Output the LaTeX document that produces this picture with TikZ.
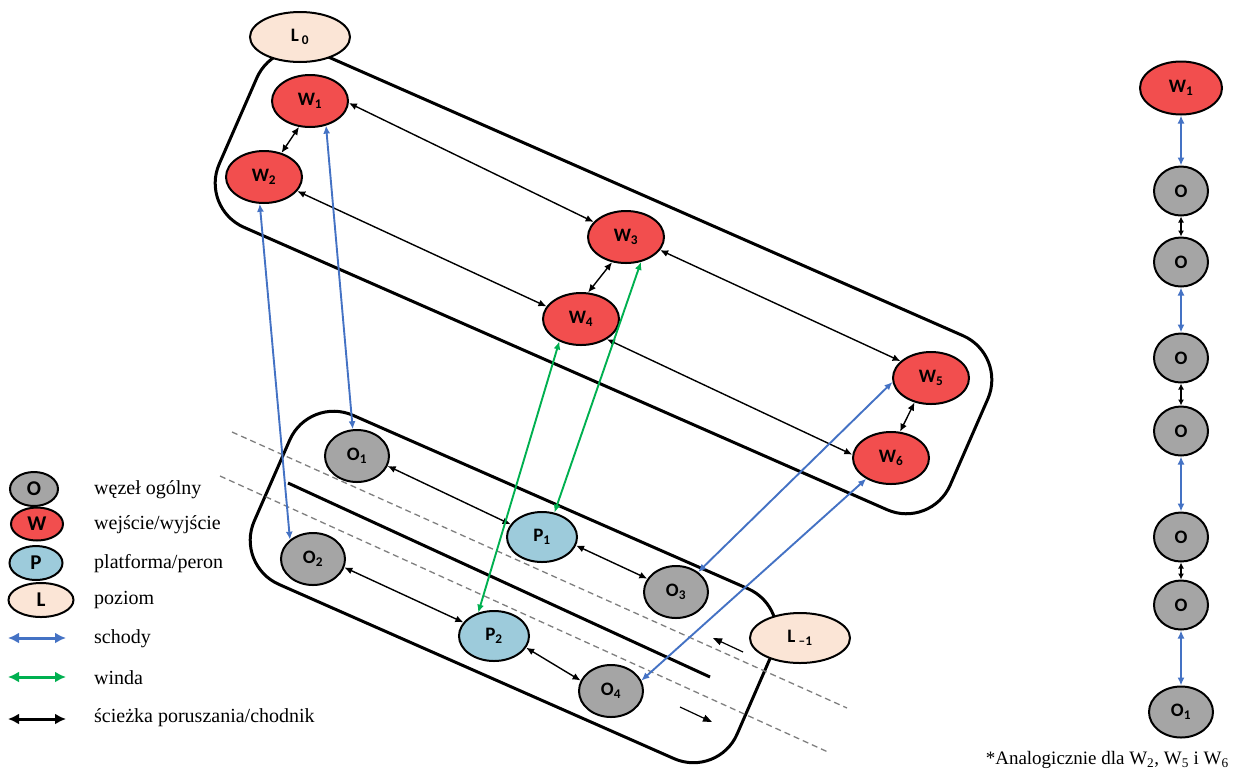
\documentclass[tikz,border=0pt]{standalone}
\usepackage{fontspec}
\setmainfont{Liberation Serif}
\newfontfamily\nodefont{Carlito}
\usetikzlibrary{shapes.geometric,arrows.meta}
\definecolor{wred}{HTML}{F24E4E}
\definecolor{ogray}{HTML}{A5A5A5}
\definecolor{pblue}{HTML}{9DCBDB}
\definecolor{lpeach}{HTML}{FBE5D6}
\definecolor{sblue}{HTML}{4472C4}
\definecolor{wgreen}{HTML}{00B050}
\definecolor{dgray}{HTML}{7F7F7F}
\tikzset{
  nd/.style={ellipse, draw=black, line width=2pt, inner sep=0pt, text=black,
    font=\nodefont\bfseries\fontsize{19}{19}\selectfont},
  wn/.style={nd, fill=wred, minimum width=76pt, minimum height=52pt},
  on/.style={nd, fill=ogray, minimum width=64pt, minimum height=52pt},
  pn/.style={nd, fill=pblue, minimum width=70pt, minimum height=50pt},
  ln/.style={nd, fill=lpeach, minimum width=100pt, minimum height=50pt},
  lg/.style={font=\nodefont\bfseries\fontsize{21}{21}\selectfont},
  walk/.style={{Latex[length=8pt,width=7pt]}-{Latex[length=8pt,width=7pt]}, line width=1.4pt, draw=black},
  stairs/.style={{Latex[length=8pt,width=7pt]}-{Latex[length=8pt,width=7pt]}, line width=1.9pt, draw=sblue},
  lift/.style={{Latex[length=8pt,width=7pt]}-{Latex[length=8pt,width=7pt]}, line width=1.9pt, draw=wgreen},
  shortwalk/.style={{Latex[length=6pt,width=6pt]}-{Latex[length=6pt,width=6pt]}, line width=1.4pt, draw=black},
  legarrow/.style={{Latex[length=11pt,width=11pt]}-{Latex[length=11pt,width=11pt]}, line width=3pt},
  levelbox/.style={draw=black, line width=3pt, rounded corners=48pt},
  dashline/.style={draw=dgray, line width=1.3pt, dash pattern=on 6pt off 4pt},
  txt/.style={anchor=west, inner sep=0pt, font=\fontsize{20}{20}\selectfont},
}
\begin{document}
\begin{tikzpicture}[x=1pt,y=-1pt]
\useasboundingbox (0,0) rectangle (1238,772);
% level boxes
\draw[levelbox] (641.5,194.5) -- (1007,355) -- (931,529) -- (200,208) -- (276,34) -- cycle;
\draw[levelbox] (550.5,502) -- (792,608) -- (718,778) -- (235,565) -- (309,396) -- cycle;
% track lines
\draw[dashline] (232,432) -- (847,708);
\draw[dashline] (220,476) -- (828,752);
\draw[line width=3pt] (288,483) -- (710,677);
\coordinate (a1s) at (743,652); \coordinate (a1e) at (713,638);
\coordinate (a2s) at (680,707); \coordinate (a2e) at (712,722);
\draw[line width=1.2pt, -{Triangle[length=9pt,width=7pt]}] (a1s) -- (a1e);
\draw[line width=1.2pt, -{Triangle[length=9pt,width=7pt]}] (a2s) -- (a2e);
% level nodes
\node[ln] (L0) at (300,37) {L\,\textsubscript{0}};
\node[ln] (Lm1) at (800,638) {L\,\textsubscript{–1}};
% upper level
\node[wn] (W1) at (310,101) {W\textsubscript{1}};
\node[wn] (W2) at (264,177) {W\textsubscript{2}};
\node[wn] (W3) at (626,237) {W\textsubscript{3}};
\node[wn] (W4) at (581,319) {W\textsubscript{4}};
\node[wn] (W5) at (931,378) {W\textsubscript{5}};
\node[wn] (W6) at (891,458) {W\textsubscript{6}};
% lower level
\node[on] (O1) at (357,456) {O\textsubscript{1}};
\node[on] (O2) at (313,559) {O\textsubscript{2}};
\node[on] (O3) at (676,592) {O\textsubscript{3}};
\node[on] (O4) at (611,691) {O\textsubscript{4}};
\node[pn] (P1) at (542,537) {P\textsubscript{1}};
\node[pn] (P2) at (494,636) {P\textsubscript{2}};
% walking paths
\draw[walk] (W1.247) -- (W2.54);
\draw[walk] (W1.-3) -- (W3.155);
\draw[walk] (W2.-23) -- (W4.160);
\draw[walk] (W3.241) -- (W4.75);
\draw[walk] (W3.-21) -- (W5.151);
\draw[walk] (W4.-38) -- (W6.175);
\draw[walk] (W5.236) -- (W6.71);
\draw[walk] (O1.-18) -- (P1.158);
\draw[walk] (P1.-14) -- (O3.155);
\draw[walk] (O2.-15) -- (P2.156);
\draw[walk] (P2.-20) -- (O4.161);
% stairs
\draw[stairs] (W1.-57) -- (O1.99);
\draw[stairs] (W2.261) -- (O2.140);
\draw[stairs] (O3.42) -- (W5.186);
\draw[stairs] (O4.19) -- (W6.220);
% lifts
\draw[lift] (W4.226) -- (P2.124);
\draw[lift] (W3.-59) -- (P1.63);
% legend
\node[nd, lg, fill=ogray, minimum width=48pt, minimum height=34pt] (lgO) at (34,489) {O};
\node[nd, lg, fill=wred, minimum width=52pt, minimum height=33pt] (lgW) at (37,524) {W};
\node[nd, lg, fill=pblue, minimum width=53pt, minimum height=34pt] (lgP) at (36,563) {P};
\node[nd, lg, fill=lpeach, minimum width=65pt, minimum height=34pt] (lgL) at (41,600) {L};
\coordinate (lb1) at (8,638); \coordinate (lb2) at (66,638);
\coordinate (lg1) at (8,677); \coordinate (lg2) at (66,677);
\coordinate (lk1) at (8,719); \coordinate (lk2) at (66,719);
\draw[legarrow, draw=sblue] (lb1) -- (lb2);
\draw[legarrow, draw=wgreen] (lg1) -- (lg2);
\draw[legarrow, draw=black] (lk1) -- (lk2);
\node[txt] (t1) at (94,490) {węzeł ogólny};
\node[txt] (t2) at (94,525) {wejście/wyjście};
\node[txt] (t3) at (94,564) {platforma/peron};
\node[txt] (t4) at (94,600) {poziom};
\node[txt] (t5) at (94,639) {schody};
\node[txt] (t6) at (94,678) {winda};
\node[txt] (t7) at (94,718) {ścieżka poruszania/chodnik};
% right column
\node[wn, minimum width=82pt, minimum height=53pt] (cW1) at (1181,88) {W\textsubscript{1}};
\node[on, minimum width=54pt, minimum height=49pt] (c1) at (1181,191) {O};
\node[on, minimum width=54pt, minimum height=49pt] (c2) at (1181,262) {O};
\node[on, minimum width=54pt, minimum height=49pt] (c3) at (1181,358) {O};
\node[on, minimum width=54pt, minimum height=49pt] (c4) at (1181,431) {O};
\node[on, minimum width=54pt, minimum height=49pt] (c5) at (1181,537) {O};
\node[on, minimum width=54pt, minimum height=49pt] (c6) at (1181,605) {O};
\node[on, minimum width=64pt, minimum height=51pt] (cO1) at (1181,712) {O\textsubscript{1}};
\draw[stairs] (cW1) -- (c1);
\draw[shortwalk] (c1) -- (c2);
\draw[stairs] (c2) -- (c3);
\draw[shortwalk] (c3) -- (c4);
\draw[stairs] (c4) -- (c5);
\draw[shortwalk] (c5) -- (c6);
\draw[stairs] (c6) -- (cO1);
\node[anchor=east, inner sep=0pt, font=\fontsize{19}{19}\selectfont] (note) at (1229,760) {*Analogicznie dla W\textsubscript{2}, W\textsubscript{5} i W\textsubscript{6}};
\end{tikzpicture}
\end{document}
